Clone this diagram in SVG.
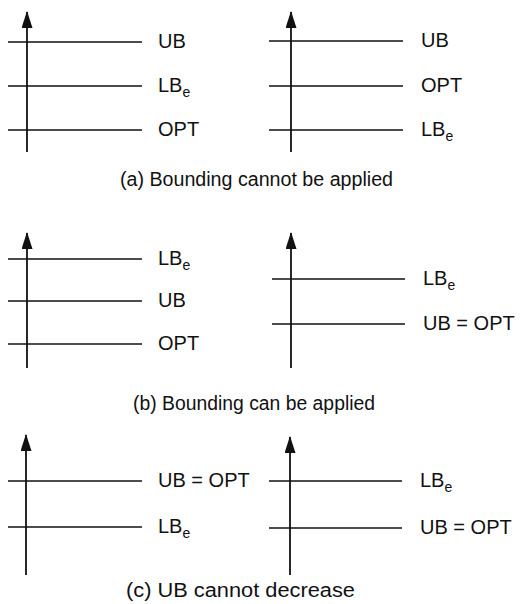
<svg xmlns="http://www.w3.org/2000/svg" width="523" height="604" viewBox="0 0 523 604">
<defs>
<marker id="ah" markerUnits="userSpaceOnUse" markerWidth="17" markerHeight="11" refX="16" refY="5.5" orient="auto" viewBox="0 0 17 11">
<path d="M0 0 L17 5.5 L0 11 Z" fill="#111"/>
</marker>
<style>
.ax{stroke:#111;stroke-width:1.8;fill:none}
.ln{stroke:#111;stroke-width:1.5;fill:none}
.lb{font-family:"Liberation Sans",Arial,sans-serif;font-size:20px;fill:#111}
.cap{font-family:"Liberation Sans",Arial,sans-serif;font-size:20px;fill:#111}
.sub{font-size:14px}
</style>
</defs>
<rect width="523" height="604" fill="#fff"/>

<g id="panel-a-left">
<line class="ax" x1="27" y1="152" x2="27" y2="12" marker-end="url(#ah)"/>
<line class="ln" x1="8" y1="42" x2="142" y2="42"/>
<line class="ln" x1="8" y1="86" x2="142" y2="86"/>
<line class="ln" x1="8" y1="130" x2="142" y2="130"/>
<text class="lb" x="158" y="48">UB</text>
<text class="lb" x="158" y="92">LB<tspan class="sub" dy="5">e</tspan></text>
<text class="lb" x="158" y="136">OPT</text>
</g>

<g id="panel-a-right">
<line class="ax" x1="291" y1="152" x2="291" y2="12" marker-end="url(#ah)"/>
<line class="ln" x1="269" y1="41" x2="403" y2="41"/>
<line class="ln" x1="269" y1="86" x2="403" y2="86"/>
<line class="ln" x1="269" y1="130" x2="403" y2="130"/>
<text class="lb" x="421" y="47">UB</text>
<text class="lb" x="421" y="92">OPT</text>
<text class="lb" x="421" y="136">LB<tspan class="sub" dy="5">e</tspan></text>
</g>

<text id="caption-a" class="cap" x="120" y="186" textLength="273" lengthAdjust="spacingAndGlyphs">(a) Bounding cannot be applied</text>

<g id="panel-b-left">
<line class="ax" x1="27" y1="368" x2="27" y2="233" marker-end="url(#ah)"/>
<line class="ln" x1="8" y1="259" x2="142" y2="259"/>
<line class="ln" x1="8" y1="301" x2="142" y2="301"/>
<line class="ln" x1="8" y1="344" x2="142" y2="344"/>
<text class="lb" x="158" y="265">LB<tspan class="sub" dy="5">e</tspan></text>
<text class="lb" x="158" y="307">UB</text>
<text class="lb" x="158" y="350">OPT</text>
</g>

<g id="panel-b-right">
<line class="ax" x1="291" y1="368" x2="291" y2="233" marker-end="url(#ah)"/>
<line class="ln" x1="272" y1="279" x2="405" y2="279"/>
<line class="ln" x1="272" y1="324" x2="405" y2="324"/>
<text class="lb" x="423" y="285">LB<tspan class="sub" dy="5">e</tspan></text>
<text class="lb" x="423" y="330">UB = OPT</text>
</g>

<text id="caption-b" class="cap" x="133" y="410" textLength="242" lengthAdjust="spacingAndGlyphs">(b) Bounding can be applied</text>

<g id="panel-c-left">
<line class="ax" x1="26" y1="575" x2="26" y2="435" marker-end="url(#ah)"/>
<line class="ln" x1="8" y1="481" x2="142" y2="481"/>
<line class="ln" x1="8" y1="527" x2="142" y2="527"/>
<text class="lb" x="158" y="487">UB = OPT</text>
<text class="lb" x="158" y="533">LB<tspan class="sub" dy="5">e</tspan></text>
</g>

<g id="panel-c-right">
<line class="ax" x1="290" y1="575" x2="290" y2="437" marker-end="url(#ah)"/>
<line class="ln" x1="269" y1="481" x2="402" y2="481"/>
<line class="ln" x1="269" y1="528" x2="402" y2="528"/>
<text class="lb" x="420" y="487">LB<tspan class="sub" dy="5">e</tspan></text>
<text class="lb" x="420" y="534">UB = OPT</text>
</g>

<text id="caption-c" class="cap" x="126" y="597" textLength="229" lengthAdjust="spacingAndGlyphs">(c) UB cannot decrease</text>
</svg>
